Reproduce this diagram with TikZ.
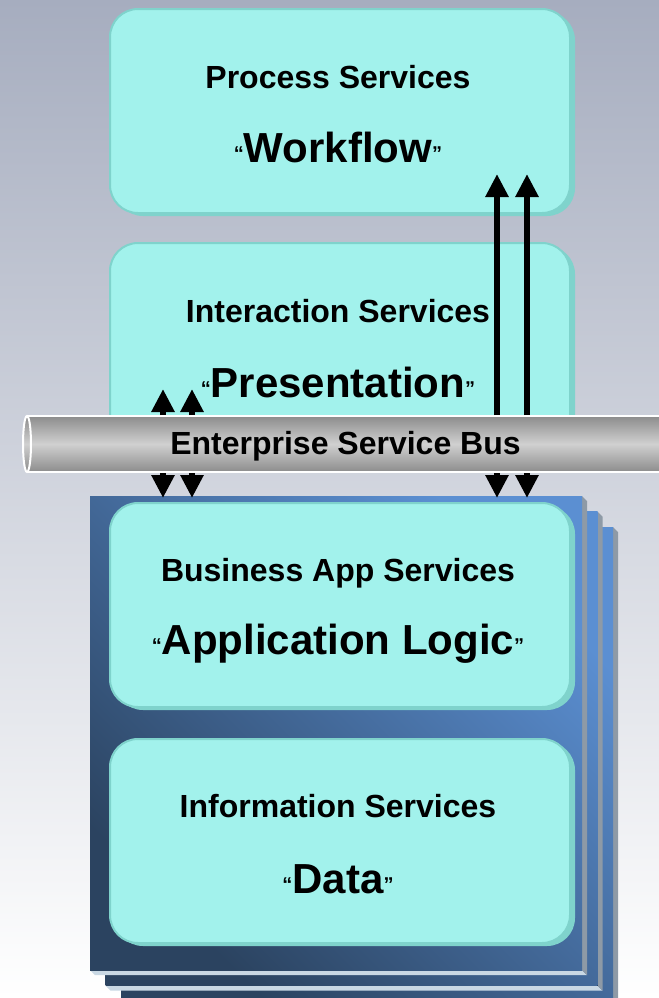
\documentclass[tikz,border=0pt]{standalone}
\usepackage{fontspec}
\setmainfont{Liberation Sans}
\usetikzlibrary{arrows.meta,shadows}

\definecolor{bgtop}{HTML}{A6ADBF}
\definecolor{aqua}{HTML}{A2F2EC}
\definecolor{aquarim}{HTML}{7FD3CC}
\definecolor{navydark}{HTML}{2B4360}
\definecolor{navylight}{HTML}{5B8FD2}
\definecolor{edgelight}{HTML}{C9D8E4}
\definecolor{edgegray}{HTML}{8E9AA6}
\definecolor{pipegray}{HTML}{8C8C8C}
\definecolor{pipelight}{HTML}{D0D0D0}

\tikzset{
  svcbox/.style={fill=aqua, draw=aquarim, line width=1pt, rounded corners=14pt,
    minimum width=230pt, minimum height=102pt,
    drop shadow={fill=aquarim, opacity=1, shadow xshift=2.5pt, shadow yshift=-1.5pt}},
  pipe/.style={draw=white, line width=1pt,
    top color=pipegray, bottom color=pipegray, middle color=pipelight},
  subtitle/.style={anchor=base, font=\bfseries\fontsize{16}{19}\selectfont},
  maintitle/.style={anchor=base, font=\bfseries\fontsize{21}{25}\selectfont},
  busarrow/.style={-{Triangle[length=11.5pt,width=11pt]}, line width=3pt},
}
\newcommand{\quoted}[1]{{\fontsize{10}{12}\selectfont\raisebox{1pt}{“}}#1{\fontsize{10}{12}\selectfont\raisebox{1pt}{”}}}

\begin{document}
\begin{tikzpicture}[x=0.5pt,y=-0.5pt]
  \useasboundingbox (0,0) rectangle (659,998);
  \fill[top color=bgtop, bottom color=white] (0,0) rectangle (659,998);

  % stacked blue panels
  \foreach \o in {31,15.5,0}{
    \fill[edgelight] (90+\o,970+\o) -- (582+\o,970+\o) -- (587+\o,975+\o) -- (95+\o,975+\o) -- cycle;
    \fill[edgegray] (582+\o,496+\o) -- (587+\o,501+\o) -- (587+\o,975+\o) -- (582+\o,970+\o) -- cycle;
    \fill[left color=navydark, right color=navylight, shading angle=135]
      (90+\o,496+\o) rectangle (582+\o,970+\o);
  }

  % service boxes
  \node[svcbox] (proc) at (340,111) {};
  \node[svcbox] (inter) at (340,345) {};
  \node[svcbox] (busapp) at (340,605) {};
  \node[svcbox] (info) at (340,841) {};

  % bus
  \node[pipe, minimum width=320.5pt, minimum height=28pt, inner sep=0pt] (bus) at (348.5,444) {};
  \draw[pipe] (bus.west) ellipse [x radius=4, y radius=28];
  \node[font=\bfseries\fontsize{16}{19}\selectfont] (bustext) at (345.5,446) {Enterprise Service Bus};

  % arrow tips
  \coordinate (upA) at (163,389);
  \coordinate (upB) at (192,389);
  \coordinate (upC) at (497,174);
  \coordinate (upD) at (527,174);
  \coordinate (dnA) at (163,498);
  \coordinate (dnB) at (192,498);
  \coordinate (dnC) at (497,498);
  \coordinate (dnD) at (527,498);
  \foreach \t in {upA,upB,upC,upD}
    \draw[busarrow] (bus.north -| \t) -- (\t);
  \foreach \t in {dnA,dnB,dnC,dnD}
    \draw[busarrow] (bus.south -| \t) -- (\t);

  % labels
  \node[subtitle] (procsub) at (338,88) {Process Services};
  \node[maintitle] (procmain) at (338,162) {\quoted{Workflow}};
  \node[subtitle] (intersub) at (338,322) {Interaction Services};
  \node[maintitle] (intermain) at (338,397) {\quoted{Presentation}};
  \node[subtitle] (busappsub) at (338,581) {Business App Services};
  \node[maintitle] (busappmain) at (338,654) {\quoted{Application Logic}};
  \node[subtitle] (infosub) at (338,817) {Information Services};
  \node[maintitle] (infomain) at (338,893) {\quoted{Data}};
\end{tikzpicture}
\end{document}
